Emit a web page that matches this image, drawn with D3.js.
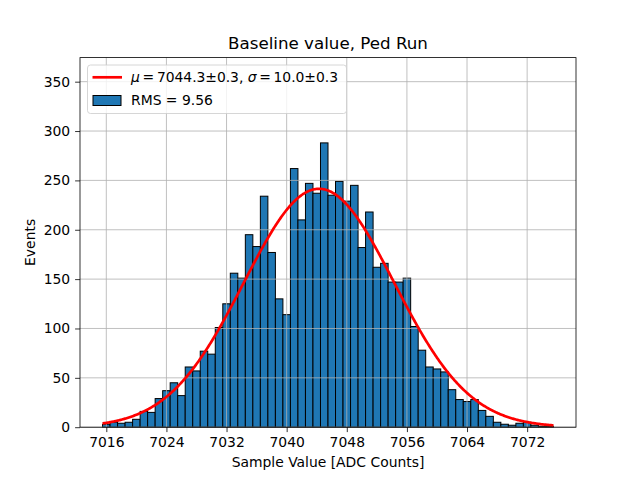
<html lang="en">
<head>
    <meta charset="UTF-8">
    <title>Baseline value, Ped Run</title>
    <style>
      body { margin: 0; background: #fff; }
      svg text { font-family: "DejaVu Sans", sans-serif; fill: #000; }
    </style>
</head>
<body>
  <div id="viz"></div>
  <script src="https://d3js.org/d3.v7.min.js"></script>
  <script>
    // histogram bins: one count per integer ADC value, 7016 .. 7075
    const binStart = 7016
    const counts = [
      3, 5, 4, 5, 8, 16, 15, 29, 37, 45,
      32, 61, 57, 77, 74, 101, 125, 156, 151, 195,
      183, 234, 177, 130, 114, 262, 210, 247, 237, 288,
      235, 249, 229, 245, 182, 218, 162, 166, 147, 147,
      151, 102, 78, 61, 59, 56, 38, 28, 26, 28,
      17, 11, 5, 3, 2, 4, 5, 2, 1, 1
    ]
    const xTicks = [7016, 7024, 7032, 7040, 7048, 7056, 7064, 7072]
    const yTicks = [0, 50, 100, 150, 200, 250, 300, 350]

    // gaussian fit shown in the legend
    const fitMu = 7044.3
    const fitSigma = 10.0
    const fitAmp = 241.5
    const rmsText = "RMS = 9.56"

    const W = 640, H = 480
    const margin = {top: 57.6, right: 64, bottom: 52.8, left: 80}
    const width = W - margin.left - margin.right
    const height = H - margin.top - margin.bottom

    const svg = d3.select("#viz")
      .append("svg")
      .attr("width", W)
      .attr("height", H)

    const g = svg.append("g")
      .attr("transform", "translate(" + margin.left + "," + margin.top + ")")

    let bins = counts.map(function(c, i) { return {lo: binStart + i - 0.5, hi: binStart + i + 0.5, n: c} })
    let lo = bins[0].lo, hi = bins[bins.length - 1].hi
    let pad = (hi - lo) * 0.05

    let xScale = d3.scaleLinear().domain([lo - pad, hi + pad]).range([0, width])
    let yScale = d3.scaleLinear().domain([0, d3.max(counts) * 1.3]).range([height, 0])

    // bars
    g.append("g").selectAll("rect")
      .data(bins)
      .enter()
      .append("rect")
      .attr("x", function(d) { return xScale(d.lo) })
      .attr("y", function(d) { return yScale(d.n) })
      .attr("width", function(d) { return xScale(d.hi) - xScale(d.lo) })
      .attr("height", function(d) { return yScale(0) - yScale(d.n) })
      .style("fill", "#1f77b4")
      .style("stroke", "#000")
      .style("stroke-width", 1)

    // grid above the bars, below the fit line (matplotlib default order)
    let grid = g.append("g")
    grid.selectAll("line.gx")
      .data(xTicks)
      .enter()
      .append("line")
      .attr("x1", function(d) { return xScale(d) })
      .attr("x2", function(d) { return xScale(d) })
      .attr("y1", 0)
      .attr("y2", height)
    grid.selectAll("line.gy")
      .data(yTicks)
      .enter()
      .append("line")
      .attr("x1", 0)
      .attr("x2", width)
      .attr("y1", function(d) { return yScale(d) })
      .attr("y2", function(d) { return yScale(d) })
    grid.selectAll("line")
      .style("stroke", "#b0b0b0")
      .style("stroke-width", 0.8)

    // fit curve
    let xs = d3.range(lo, hi + 0.001, 0.1)
    let line = d3.line()
      .x(function(x) { return xScale(x) })
      .y(function(x) { return yScale(fitAmp * Math.exp(-Math.pow(x - fitMu, 2) / (2 * fitSigma * fitSigma))) })
    g.append("path")
      .datum(xs)
      .attr("d", line)
      .style("fill", "none")
      .style("stroke", "red")
      .style("stroke-width", 2.7)

    // axes
    let xAxis = d3.axisBottom(xScale).tickValues(xTicks).tickSize(4.9).tickPadding(4.9).tickFormat(d3.format("d"))
    let yAxis = d3.axisLeft(yScale).tickValues(yTicks).tickSize(4.9).tickPadding(4.9)
    let gx = g.append("g").attr("transform", "translate(0," + height + ")").call(xAxis)
    let gy = g.append("g").call(yAxis)
    ;[gx, gy].forEach(function(a) {
      a.select(".domain").remove()
      a.selectAll("line").style("stroke", "#000").style("stroke-width", 0.8)
      a.selectAll("text").style("font-size", "13.9px").style("font-family", "DejaVu Sans")
    })

    // frame
    g.append("rect")
      .attr("width", width)
      .attr("height", height)
      .style("fill", "none")
      .style("stroke", "#000")
      .style("stroke-width", 0.8)

    // labels
    svg.append("text")
      .attr("x", margin.left + width / 2)
      .attr("y", 49)
      .attr("text-anchor", "middle")
      .style("font-size", "16.7px")
      .text("Baseline value, Ped Run")
    svg.append("text")
      .attr("x", margin.left + width / 2)
      .attr("y", 467)
      .attr("text-anchor", "middle")
      .style("font-size", "13.9px")
      .text("Sample Value [ADC Counts]")
    svg.append("text")
      .attr("transform", "translate(35," + (margin.top + height / 2) + ") rotate(-90)")
      .attr("text-anchor", "middle")
      .style("font-size", "13.9px")
      .text("Events")

    // legend
    let leg = svg.append("g").attr("transform", "translate(87.5,65)")
    leg.append("rect")
      .attr("width", 259)
      .attr("height", 48.5)
      .attr("rx", 3)
      .style("fill", "#fff")
      .style("fill-opacity", 0.8)
      .style("stroke", "#cccccc")
      .style("stroke-width", 0.8)
    leg.append("line")
      .attr("x1", 5).attr("x2", 34.5)
      .attr("y1", 12.3).attr("y2", 12.3)
      .style("stroke", "red")
      .style("stroke-width", 2.7)
    let t1 = leg.append("text")
      .attr("x", 43.5)
      .attr("y", 17.3)
      .attr("textLength", 207)
      .attr("lengthAdjust", "spacing")
      .style("font-size", "13.9px")
    t1.append("tspan").style("font-style", "italic").text("μ")
    t1.append("tspan").text("\u2009=\u2009" + fitMu.toFixed(1) + "±0.3, ")
    t1.append("tspan").style("font-style", "italic").text("σ")
    t1.append("tspan").text("\u2009=\u2009" + fitSigma.toFixed(1) + "±0.3")
    leg.append("rect")
      .attr("x", 5.5).attr("y", 30.5)
      .attr("width", 28).attr("height", 10)
      .style("fill", "#1f77b4")
      .style("stroke", "#000")
      .style("stroke-width", 1)
    leg.append("text")
      .attr("x", 43.5)
      .attr("y", 40.3)
      .style("font-size", "13.9px")
      .text(rmsText)
  </script>
</body>
</html>
